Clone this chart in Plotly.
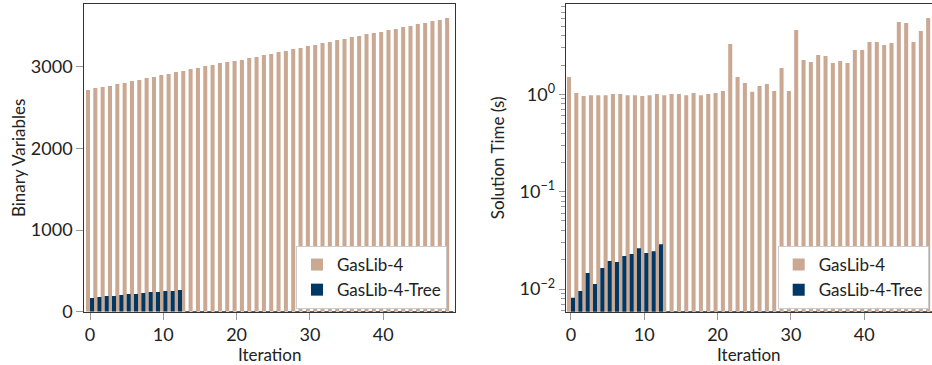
import plotly.graph_objects as go

iterations = list(range(50))
tree_iterations = list(range(13))

binvars_full = [2714, 2738, 2750, 2762, 2787, 2799, 2824, 2836, 2860, 2873,
                2897, 2909, 2934, 2946, 2970, 2983, 3007, 3019, 3044, 3056,
                3068, 3081, 3105, 3117, 3142, 3154, 3178, 3191, 3215, 3227,
                3252, 3264, 3288, 3301, 3325, 3338, 3362, 3374, 3399, 3411,
                3423, 3448, 3460, 3484, 3497, 3521, 3533, 3558, 3570, 3595]
binvars_tree = [168, 180, 192, 192, 204, 217, 217, 229, 241, 241, 253, 253, 266]

time_full = [1.51, 1.03, 0.96, 0.98, 0.98, 0.98, 1.01, 1.01, 0.98, 0.98,
             0.96, 0.98, 1.01, 0.98, 1.01, 1.01, 0.98, 1.03, 0.98, 1.01,
             1.03, 1.08, 3.29, 1.51, 1.31, 1.06, 1.22, 1.28, 1.08, 1.86,
             1.08, 4.58, 2.25, 2.15, 2.54, 2.47, 2.10, 2.20, 2.10, 2.85,
             2.85, 3.45, 3.45, 3.21, 3.37, 5.53, 5.40, 3.45, 4.47, 6.08]
time_tree = [0.00812, 0.00953, 0.01458, 0.01124, 0.0164, 0.01936, 0.0189,
             0.0218, 0.0229, 0.0263, 0.0234, 0.0245, 0.0289]

x_ticks = [0, 10, 20, 30, 40]
y1_ticks = [0, 1000, 2000, 3000]
y2_ticks = [0.01, 0.1, 1]
y2_ticktext = ["10<sup>−2</sup>", "10<sup>−1</sup>", "10<sup>0</sup>"]

TAN = "#CAA892"
BLUE = "#003865"
FONT = "Lato"
BW = 0.55

y1_range = [0, 3766]
y2_log_range = [-2.233, 0.928]

# blue zero-height bars beyond the tree iterations (drawn as dashes on the baseline)
zero_iters = [i for i in iterations if i not in tree_iterations]
dash_x = []
for i in zero_iters:
    dash_x += [i, i + BW, None]
dash_y1 = [0, 0, None] * len(zero_iters)
dash_y2 = [10 ** y2_log_range[0], 10 ** y2_log_range[0], None] * len(zero_iters)

fig = go.Figure()
fig.add_trace(go.Bar(x=iterations, y=binvars_full, name="GasLib-4", width=BW, offset=-BW,
                     marker=dict(color=TAN, line=dict(width=0)), xaxis="x", yaxis="y",
                     legend="legend"))
fig.add_trace(go.Bar(x=tree_iterations, y=binvars_tree, name="GasLib-4-Tree", width=BW, offset=0,
                     marker=dict(color=BLUE, line=dict(width=0)), xaxis="x", yaxis="y",
                     legend="legend"))
fig.add_trace(go.Scatter(x=dash_x, y=dash_y1, mode="lines", line=dict(color=BLUE, width=1.3),
                         showlegend=False, xaxis="x", yaxis="y", cliponaxis=False, hoverinfo="skip"))

fig.add_trace(go.Bar(x=iterations, y=time_full, name="GasLib-4", width=BW, offset=-BW,
                     marker=dict(color=TAN, line=dict(width=0)), xaxis="x2", yaxis="y2",
                     legend="legend2"))
fig.add_trace(go.Bar(x=tree_iterations, y=time_tree, name="GasLib-4-Tree", width=BW, offset=0,
                     marker=dict(color=BLUE, line=dict(width=0)), xaxis="x2", yaxis="y2",
                     legend="legend2"))
fig.add_trace(go.Scatter(x=dash_x, y=dash_y2, mode="lines", line=dict(color=BLUE, width=1.3),
                         showlegend=False, xaxis="x2", yaxis="y2", cliponaxis=False, hoverinfo="skip"))

W, H = 932, 365
ydom = [1 - 311.7 / H, 1 - 4 / H]

axis_common = dict(showgrid=False, zeroline=False, showline=True, linecolor="#333333",
                   linewidth=1.2, mirror=True, ticks="outside", tickcolor="#999999",
                   tickwidth=1.2, tickfont=dict(family=FONT, size=18, color="#222222"),
                   automargin=False)

fig.update_layout(
    width=W, height=H,
    margin=dict(l=0, r=0, t=0, b=0),
    paper_bgcolor="white", plot_bgcolor="white",
    barmode="overlay",
    font=dict(family=FONT, size=17, color="#222222"),
    xaxis=dict(domain=[84.3 / W, 455 / W], range=[-0.78, 49.8], tickvals=x_ticks, ticklen=7,
               title=dict(text="Iteration", standoff=4, font=dict(family=FONT, size=17)),
               anchor="y", **axis_common),
    yaxis=dict(domain=ydom, range=y1_range, tickvals=y1_ticks, ticklen=7,
               title=dict(text="Binary Variables", standoff=0, font=dict(family=FONT, size=17)),
               anchor="x", **axis_common),
    xaxis2=dict(domain=[565.7 / W, 1.0], range=[-0.72, 49.25], tickvals=x_ticks, ticklen=7,
                title=dict(text="Iteration", standoff=4, font=dict(family=FONT, size=17)),
                anchor="y2", **axis_common),
    yaxis2=dict(domain=ydom, type="log", range=y2_log_range, tickvals=y2_ticks,
                ticktext=y2_ticktext, ticklen=6,
                minor=dict(ticks="outside", ticklen=4, tickcolor="#999999", dtick="D1",
                           showgrid=False),
                title=dict(text="Solution Time (s)", standoff=10, font=dict(family=FONT, size=17)),
                anchor="x2", **axis_common),
    legend=dict(x=296 / W, y=1 - 246 / H, xanchor="left", yanchor="top",
                bgcolor="white", bordercolor="#cccccc", borderwidth=1,
                font=dict(family=FONT, size=17, color="#222222"), tracegroupgap=0),
    legend2=dict(x=777.7 / W, y=1 - 246 / H, xanchor="left", yanchor="top",
                 bgcolor="white", bordercolor="#cccccc", borderwidth=1,
                 font=dict(family=FONT, size=17, color="#222222"), tracegroupgap=0),
)

fig.write_html("out.html",
               config={"displayModeBar": False},
               post_script="document.body.style.margin='0';document.body.style.overflow='hidden';")
